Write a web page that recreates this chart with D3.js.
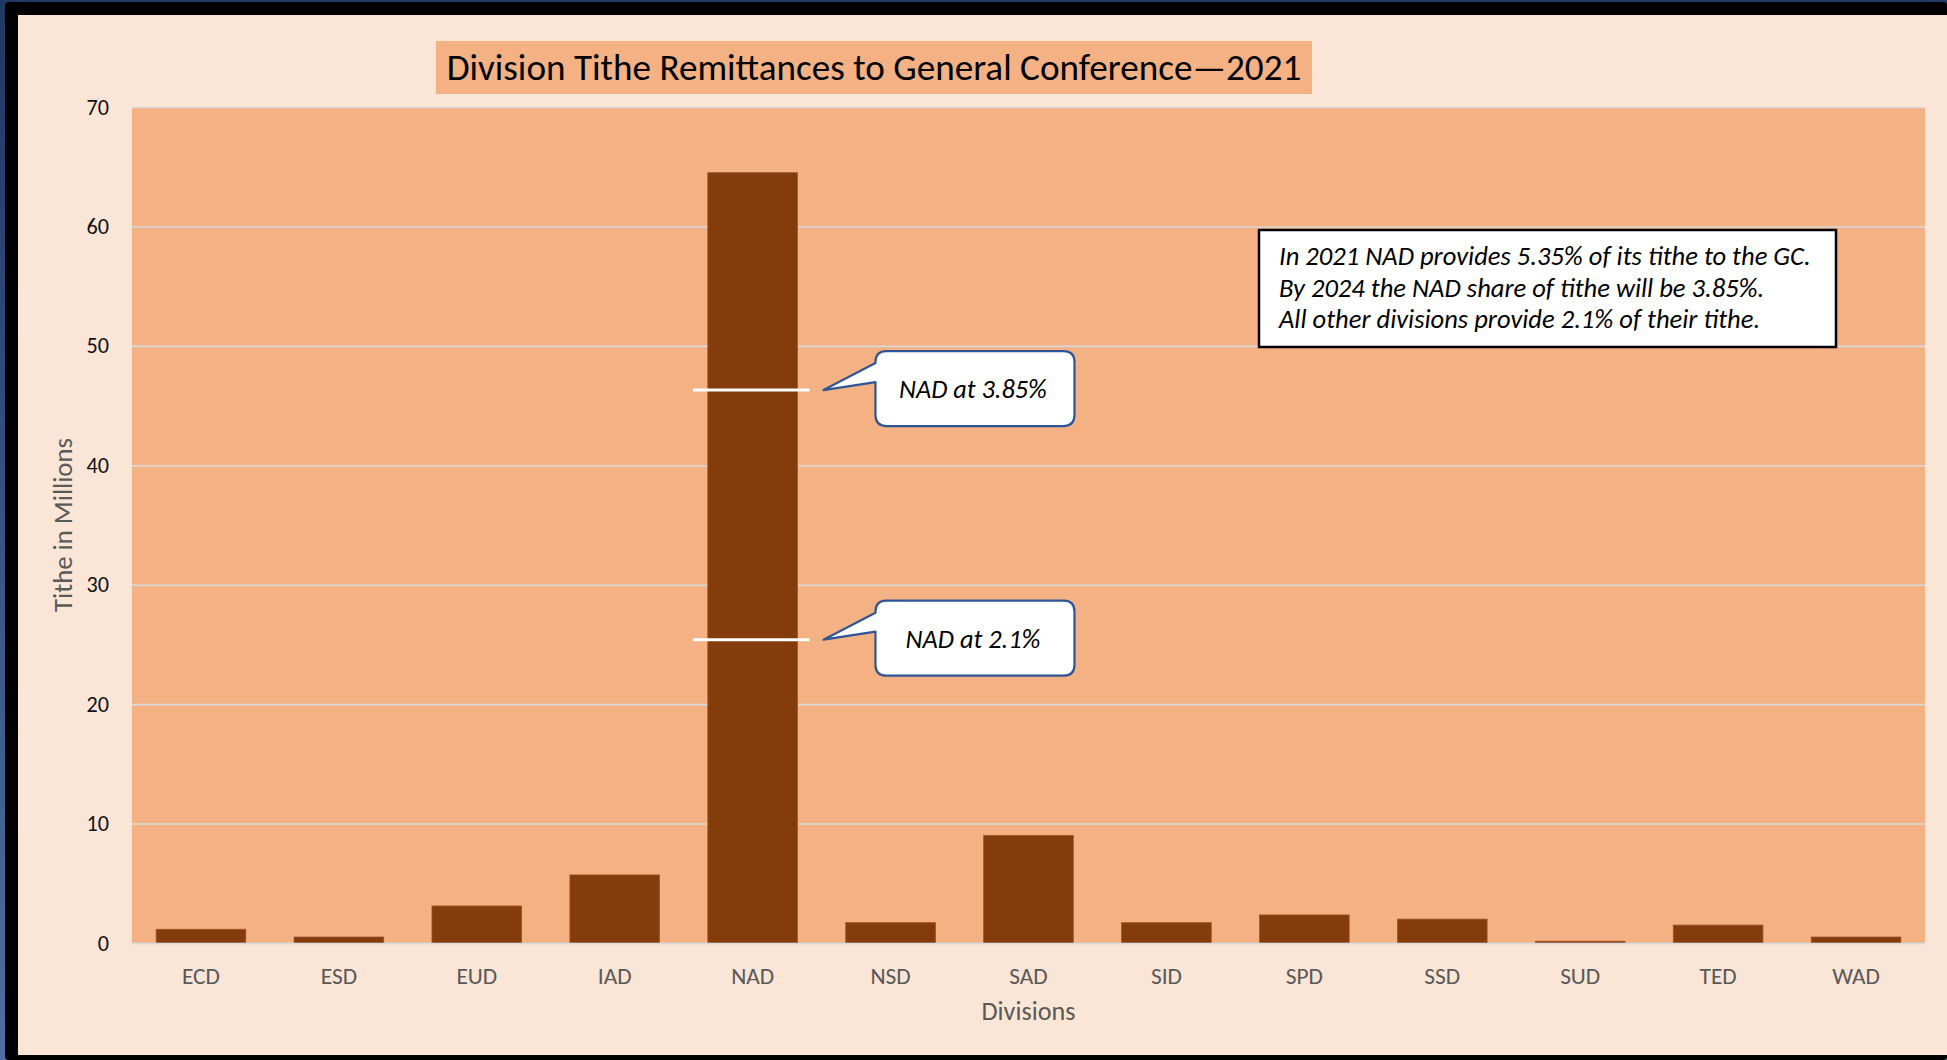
<!DOCTYPE html>
<html>
<head>
<meta charset="utf-8">
<script src="https://cdn.jsdelivr.net/npm/d3@7"></script>
<style>
  body { margin: 0; background: #FBE5D6; overflow: hidden; }
  text { font-family: Carlito, Calibri, Lato, sans-serif; }
</style>
</head>
<body>
<div id="chart"></div>
<script>
// chart data
var divisions = ["ECD", "ESD", "EUD", "IAD", "NAD", "NSD", "SAD", "SID", "SPD", "SSD", "SUD", "TED", "WAD"];
var tithe = [1.15, 0.5, 3.1, 5.7, 64.5, 1.7, 9.0, 1.7, 2.35, 2.0, 0.15, 1.5, 0.5];
var yTicks = [0, 10, 20, 30, 40, 50, 60, 70];
var markerLabels = ["NAD at 3.85%", "NAD at 2.1%"];
var markerValues = [46.3, 25.4];
var noteLines = [
  "In 2021 NAD provides 5.35% of its tithe to the GC.",
  "By 2024 the NAD share of tithe will be 3.85%.",
  "All other divisions provide 2.1% of their tithe."
];
var chartTitle = "Division Tithe Remittances to General Conference\u20142021";

var svgWidth = 1947;
var svgHeight = 1060;

var plot = { left: 132, right: 1925, top: 107, bottom: 943 };

var svg = d3.select("#chart")
  .append("svg")
  .attr("width", svgWidth)
  .attr("height", svgHeight);

// frame: blue edge, black shadow, light background
var defs = svg.append("defs");
var grad = defs.append("linearGradient")
  .attr("id", "blueEdge")
  .attr("x1", 0).attr("y1", 0).attr("x2", 0).attr("y2", 1);
grad.append("stop").attr("offset", "0%").attr("stop-color", "#1F3864");
grad.append("stop").attr("offset", "100%").attr("stop-color", "#4D6FA3");

svg.append("rect").attr("width", svgWidth).attr("height", svgHeight).attr("fill", "url(#blueEdge)");
svg.append("rect").attr("x", 5).attr("y", 2).attr("width", svgWidth - 5).attr("height", svgHeight - 2)
  .attr("rx", 4).attr("fill", "#000");
svg.append("rect").attr("x", 18).attr("y", 15).attr("width", svgWidth - 18).attr("height", 1055 - 15)
  .attr("fill", "#FBE5D6");

// helper to fit a text to a width
function fitWidth(sel, target) {
  var w = sel.node().getComputedTextLength();
  var fs = parseFloat(sel.attr("font-size"));
  sel.attr("font-size", fs * target / w);
  return fs * target / w;
}

// scales
var xScale = d3.scaleBand()
  .domain(divisions)
  .range([plot.left, plot.right])
  .paddingInner(0.35)
  .paddingOuter(0.175);

var yScale = d3.scaleLinear()
  .domain([0, 70])
  .range([plot.bottom, plot.top]);

// plot area
svg.append("rect")
  .attr("x", plot.left)
  .attr("y", plot.top)
  .attr("width", plot.right - plot.left)
  .attr("height", plot.bottom - plot.top)
  .attr("fill", "#F4B183");

// gridlines
var grid = svg.append("g")
  .attr("transform", `translate(${plot.left}, 0)`)
  .call(d3.axisLeft(yScale).tickValues(yTicks).tickSize(-(plot.right - plot.left)).tickFormat(""));
grid.select(".domain").remove();
grid.selectAll("line").attr("stroke", "#D9D9D9").attr("stroke-width", 1.6);

// y tick labels
var yAxis = svg.append("g")
  .attr("transform", `translate(${plot.left}, 0)`)
  .call(d3.axisLeft(yScale).tickValues(yTicks).tickSize(0).tickPadding(23));
yAxis.select(".domain").remove();
var yLabels = yAxis.selectAll("text")
  .attr("font-size", 20)
  .attr("font-family", "Carlito, Calibri, Lato, sans-serif")
  .attr("fill", "#111");
var ySize = fitWidth(yLabels.filter(d => d === 70), 22.5);
yLabels.attr("font-size", ySize);

// bars
svg.append("g")
  .selectAll("rect")
  .data(divisions)
  .enter()
  .append("rect")
  .attr("x", d => xScale(d))
  .attr("y", (d, i) => yScale(tithe[i]))
  .attr("width", xScale.bandwidth())
  .attr("height", (d, i) => yScale(0) - yScale(tithe[i]))
  .attr("fill", "#843C0C")
  .attr("stroke", "#A0522D")
  .attr("stroke-width", 0.8);

// x axis
var xAxis = svg.append("g")
  .attr("transform", `translate(0, ${plot.bottom})`)
  .call(d3.axisBottom(xScale).tickSize(0).tickPadding(24));
xAxis.select(".domain").attr("stroke", "#D9D9D9").attr("stroke-width", 1.6);
var xLabels = xAxis.selectAll("text")
  .attr("font-size", 20)
  .attr("font-family", "Carlito, Calibri, Lato, sans-serif")
  .attr("fill", "#595959");
var xSize = fitWidth(xLabels.filter(d => d === "ECD"), 38);
xLabels.attr("font-size", xSize);

// axis titles
var xTitle = svg.append("text")
  .attr("x", (plot.left + plot.right) / 2)
  .attr("y", 1020)
  .attr("text-anchor", "middle")
  .attr("font-size", 24)
  .attr("fill", "#595959")
  .text("Divisions");
fitWidth(xTitle, 94);

var yTitle = svg.append("text")
  .attr("transform", `translate(72, ${(plot.top + plot.bottom) / 2}) rotate(-90)`)
  .attr("text-anchor", "middle")
  .attr("font-size", 24)
  .attr("fill", "#595959")
  .text("Tithe in Millions");
fitWidth(yTitle, 174);

// title
svg.append("rect")
  .attr("x", 436).attr("y", 41)
  .attr("width", 876).attr("height", 53)
  .attr("fill", "#F4B183");
var title = svg.append("text")
  .attr("x", 874)
  .attr("y", 80)
  .attr("text-anchor", "middle")
  .attr("font-size", 32)
  .attr("fill", "#000")
  .text(chartTitle);
fitWidth(title, 855);

// NAD markers and callouts
var nadX = xScale("NAD");
var nadRight = nadX + xScale.bandwidth();

markerValues.forEach(function(v, i) {
  var my = yScale(v);
  svg.append("line")
    .attr("x1", nadX - 15).attr("x2", nadRight + 12)
    .attr("y1", my).attr("y2", my)
    .attr("stroke", "#fff")
    .attr("stroke-width", 3);

  var L = nadRight + 78, R = L + 199, T = my - 39, B = T + 75, r = 11;
  var tipX = nadRight + 26;
  var path = `M${L + r},${T} H${R - r} Q${R},${T} ${R},${T + r} V${B - r} Q${R},${B} ${R - r},${B}` +
    ` H${L + r} Q${L},${B} ${L},${B - r} V${my - 8} L${tipX},${my} L${L},${my - 27} V${T + r} Q${L},${T} ${L + r},${T} Z`;
  svg.append("path")
    .attr("d", path)
    .attr("fill", "#fff")
    .attr("stroke", "#2F5597")
    .attr("stroke-width", 2.2)
    .attr("stroke-linejoin", "round");

  var lab = svg.append("text")
    .attr("x", (L + R) / 2 - 2)
    .attr("y", my + 8)
    .attr("text-anchor", "middle")
    .attr("font-style", "italic")
    .attr("font-size", 22)
    .attr("fill", "#000")
    .text(markerLabels[i]);
  fitWidth(lab, i === 0 ? 148 : 135);
});

// note box
svg.append("rect")
  .attr("x", 1259).attr("y", 230)
  .attr("width", 577).attr("height", 117)
  .attr("fill", "#fff")
  .attr("stroke", "#000")
  .attr("stroke-width", 2.5);

var noteSize = null;
noteLines.forEach(function(line, i) {
  var t = svg.append("text")
    .attr("x", 1279)
    .attr("y", 265 + i * 31.5)
    .attr("font-style", "italic")
    .attr("font-size", noteSize || 22)
    .attr("fill", "#000")
    .text(line);
  if (i === 0) noteSize = fitWidth(t, 532);
});
</script>
</body>
</html>
